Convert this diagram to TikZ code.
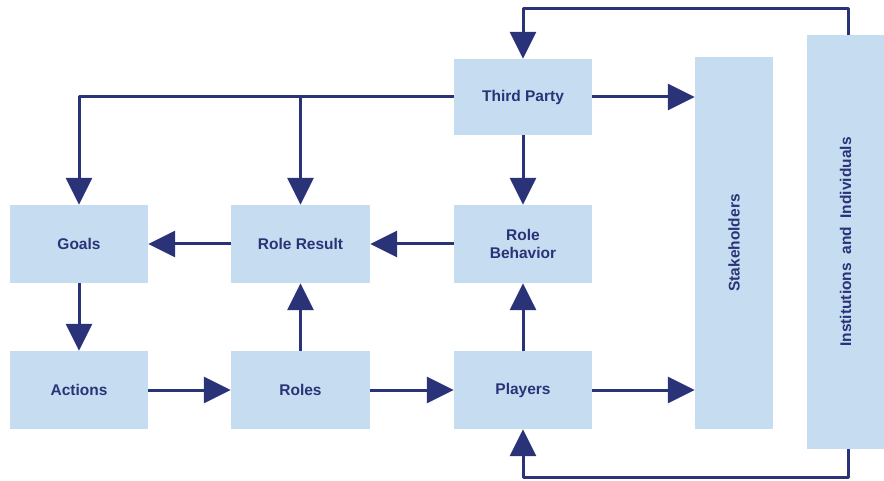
\documentclass[tikz,border=0pt]{standalone}
\usepackage{fontspec}
\setmainfont{Liberation Sans}
\usetikzlibrary{arrows.meta,calc}
\definecolor{boxfill}{HTML}{C6DDF1}
\definecolor{navy}{HTML}{2A3378}
\begin{document}
\begin{tikzpicture}[x=1pt,y=-1pt,
  box/.style={fill=boxfill, draw=none, inner sep=0pt, text=navy,
    font=\fontsize{15.5}{18}\selectfont\bfseries, align=center,
    minimum width=138pt, minimum height=78pt},
  tall/.style={box, rotate=90},
  arr/.style={draw=navy, line width=3pt, line join=round,
    -{Triangle[length=27pt,width=26pt]}}]
\useasboundingbox (0,0) rectangle (884,481);

% boxes
\node[box, minimum height=76pt] (tp) at (523,97) {Third Party};
\node[box] (goals) at (79,244) {Goals};
\node[box, minimum width=139pt] (rr) at (300.5,244) {Role Result};
\node[box] (rb) at (523,244) {Role\\Behavior};
\node[box] (act) at (79,390) {Actions};
\node[box, minimum width=139pt] (roles) at (300.5,390) {Roles};
\node[box] (pl) at (523,390) {Players};
\node[tall, minimum width=372pt, minimum height=78pt] (sh) at (734,243) {Stakeholders};
\node[tall, minimum width=414pt, minimum height=77pt] (inst) at (845.5,242) {Institutions~ and~ Individuals};

% feedback loops from institutions
\coordinate (loopTop) at (848,9);
\coordinate (loopBot) at (848,477);
\draw[arr] ([xshift=2.5pt]inst.east) -- (loopTop) -| (tp.north);
\draw[arr] ([xshift=2.5pt]inst.west) -- (loopBot) -| (pl.south);

% third party influences
\draw[arr] (tp.west) -| (goals.north);
\draw[arr] (tp.west -| rr.north) -- (rr.north);
\draw[arr] (tp.south) -- (rb.north);
\draw[arr] (tp.east) -- (tp.east -| sh.north);

% middle row
\draw[arr] (rb.west) -- (rr.east);
\draw[arr] (rr.west) -- (goals.east);

% bottom row
\draw[arr] (goals.south) -- (act.north);
\draw[arr] (act.east) -- (roles.west);
\draw[arr] (roles.east) -- (pl.west);
\draw[arr] (pl.east) -- (pl.east -| sh.north);
\draw[arr] (roles.north) -- (rr.south);
\draw[arr] (pl.north) -- (rb.south);
\end{tikzpicture}
\end{document}
